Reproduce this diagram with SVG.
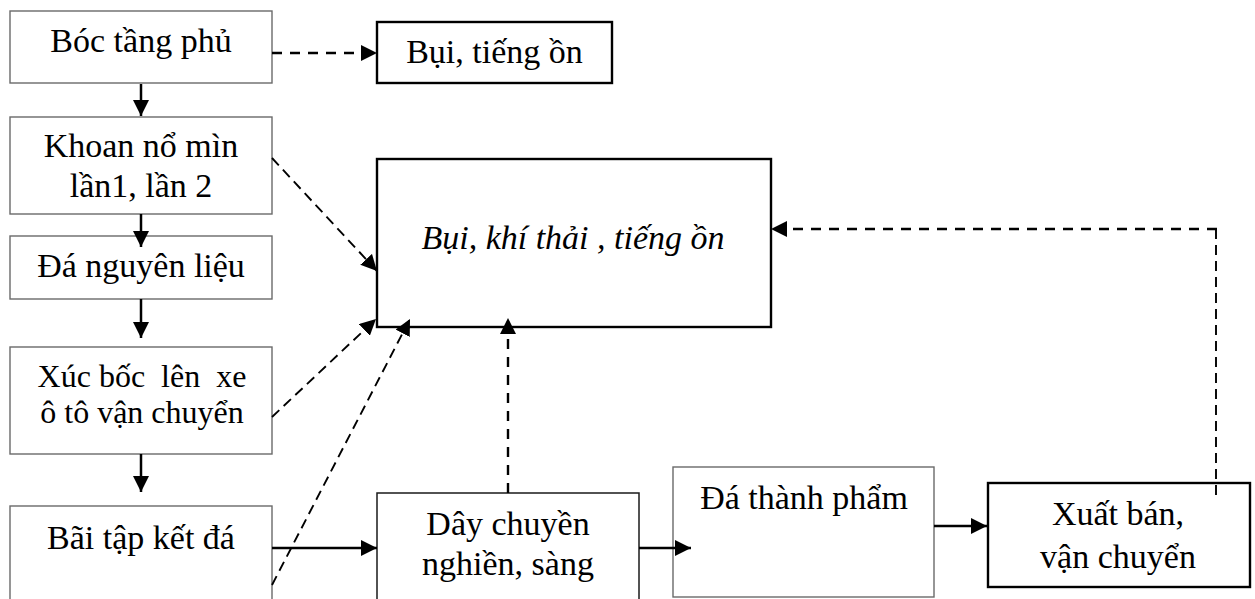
<svg xmlns="http://www.w3.org/2000/svg" width="1255" height="599" viewBox="0 0 1255 599">
<style>
.t{font-family:"Liberation Serif","Times New Roman",serif;font-size:34px;fill:#000;text-anchor:middle}
.x{font-size:32px}
.i{font-style:italic}
.bg{fill:#fff;stroke:#6a6a6a;stroke-width:1.4}
.bd{fill:#fff;stroke:#1a1a1a;stroke-width:1.5}
.bk{fill:#fff;stroke:#000;stroke-width:2.4}
.s{fill:none;stroke:#000;stroke-width:2.5}
.d{fill:none;stroke:#000;stroke-width:2.4;stroke-dasharray:10 8}
.dt{fill:none;stroke:#000;stroke-width:1.9;stroke-dasharray:10 6}
</style>
<defs>
<marker id="ah" markerUnits="userSpaceOnUse" markerWidth="16" markerHeight="16" refX="16" refY="8" orient="auto" viewBox="0 0 16 16"><path d="M0,0L16,8L0,16z" fill="#000"/></marker>
</defs>
<rect width="1255" height="599" fill="#fff"/>
<g id="boc-tang-phu"><rect class="bg" x="10" y="11" width="262" height="72"/><text class="t" x="141" y="52">Bóc tầng phủ</text></g>
<g id="bui-tieng-on"><rect class="bk" x="377" y="22" width="235" height="61"/><text class="t" x="494.5" y="63">Bụi, tiếng ồn</text></g>
<g id="khoan-no-min"><rect class="bg" x="10" y="117" width="262" height="97"/><text class="t" x="141" y="157">Khoan nổ mìn</text><text class="t" x="141" y="197">lần1, lần 2</text></g>
<g id="da-nguyen-lieu"><rect class="bg" x="10" y="236" width="262" height="63"/><text class="t" x="141" y="277">Đá nguyên liệu</text></g>
<g id="xuc-boc"><rect class="bg" x="10" y="347" width="262" height="107"/><text class="t x" x="142" y="387" xml:space="preserve">Xúc bốc  lên  xe</text><text class="t x" x="142" y="423">ô tô vận chuyển</text></g>
<g id="bai-tap-ket"><rect class="bg" x="10" y="506" width="262" height="110"/><text class="t" x="141" y="549">Bãi tập kết đá</text></g>
<g id="bui-khi-thai"><rect class="bk" x="377" y="159" width="394" height="168"/><text class="t i" x="573" y="249">Bụi, khí thải , tiếng ồn</text></g>
<g id="day-chuyen"><rect class="bd" x="377" y="493" width="262" height="120"/><text class="t" x="508" y="535">Dây chuyền</text><text class="t" x="508" y="575">nghiền, sàng</text></g>
<g id="da-thanh-pham"><rect class="bg" x="673" y="467" width="261" height="130"/><text class="t" x="804" y="509">Đá thành phẩm</text></g>
<g id="xuat-ban"><rect class="bk" x="988" y="483" width="262" height="104"/><text class="t" x="1118" y="525">Xuất bán,</text><text class="t" x="1118" y="568">vận chuyển</text></g>
<g id="connectors">
<path class="d" d="M272,53H377" marker-end="url(#ah)"/>
<path class="s" d="M141,84V116" marker-end="url(#ah)"/>
<path class="s" d="M141,214V247" marker-end="url(#ah)"/>
<path class="s" d="M141,299V338" marker-end="url(#ah)"/>
<path class="s" d="M141,454V492" marker-end="url(#ah)"/>
<path class="s" d="M272,548H377" marker-end="url(#ah)"/>
<path class="s" d="M639,548H691" marker-end="url(#ah)"/>
<path class="s" d="M934,526H987" marker-end="url(#ah)"/>
<path class="dt" d="M272,158L377,271" marker-end="url(#ah)"/>
<path class="dt" d="M272,417L376,319" marker-end="url(#ah)"/>
<path class="dt" d="M272,585L410,319" marker-end="url(#ah)"/>
<path class="d" d="M508,493V318" stroke-dasharray="11 8" marker-end="url(#ah)"/>
<path class="dt" d="M1216,495V229" stroke-width="1.7" stroke-dasharray="8 6"/>
<path class="d" d="M1217,229H771" stroke-width="2.6" stroke-dasharray="10 9" marker-end="url(#ah)"/>
</g>
</svg>
